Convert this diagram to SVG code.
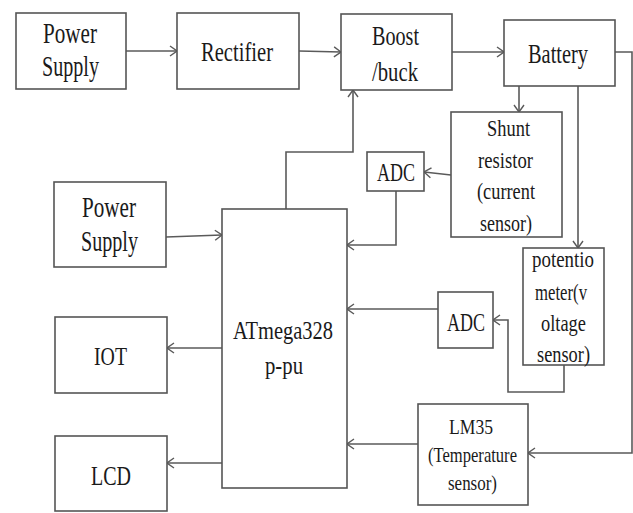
<svg xmlns="http://www.w3.org/2000/svg" width="633" height="513" viewBox="0 0 633 513">
<style>
.box{fill:#fff;stroke:#555;stroke-width:1.6}
.t{font-family:"Liberation Serif","Times New Roman",serif;fill:#1a1a1a}
.c{fill:none;stroke:#5a5a5a;stroke-width:1.6}
</style>
<defs>
<marker id="ah" viewBox="-9 -6 10 12" markerWidth="10" markerHeight="12" refX="0" refY="0" orient="auto" markerUnits="userSpaceOnUse">
<path d="M-7,-5 L0,0 L-7,5" fill="none" stroke="#5a5a5a" stroke-width="1.4"/>
</marker>
</defs>
<rect width="633" height="513" fill="#fff"/>
<g id="connectors">
<path class="c" d="M126,51 H177" marker-end="url(#ah)"/>
<path class="c" d="M299,51 L341,52" marker-end="url(#ah)"/>
<path class="c" d="M452,52 H504" marker-end="url(#ah)"/>
<path class="c" d="M615,52 H632 V453 H528" marker-end="url(#ah)"/>
<path class="c" d="M519,86 V112" marker-end="url(#ah)"/>
<path class="c" d="M578,86 V248" marker-end="url(#ah)"/>
<path class="c" d="M451,175 L424,172" marker-end="url(#ah)"/>
<path class="c" d="M396,191 V245 H347" marker-end="url(#ah)"/>
<path class="c" d="M286,209 V152 H353 V90" marker-end="url(#ah)"/>
<path class="c" d="M166,237 L222,235" marker-end="url(#ah)"/>
<path class="c" d="M438,309 H347" marker-end="url(#ah)"/>
<path class="c" d="M564,365 V392 H508 V320 H493" marker-end="url(#ah)"/>
<path class="c" d="M418,444 H347" marker-end="url(#ah)"/>
<path class="c" d="M222,348 H167" marker-end="url(#ah)"/>
<path class="c" d="M222,463 H167" marker-end="url(#ah)"/>
</g>
<g id="power-supply-1">
<rect class="box" x="16" y="13" width="110" height="76"/>
<text class="t" x="43" y="43" font-size="29" textLength="54" lengthAdjust="spacingAndGlyphs">Power</text>
<text class="t" x="42" y="76" font-size="29" textLength="57" lengthAdjust="spacingAndGlyphs">Supply</text>
</g>
<g id="rectifier">
<rect class="box" x="177" y="13" width="122" height="76"/>
<text class="t" x="201" y="61" font-size="28" textLength="72" lengthAdjust="spacingAndGlyphs">Rectifier</text>
</g>
<g id="boost-buck">
<rect class="box" x="341" y="14" width="111" height="76"/>
<text class="t" x="372" y="45" font-size="27" textLength="47" lengthAdjust="spacingAndGlyphs">Boost</text>
<text class="t" x="372" y="81" font-size="27" textLength="46" lengthAdjust="spacingAndGlyphs">/buck</text>
</g>
<g id="battery">
<rect class="box" x="504" y="20" width="111" height="66"/>
<text class="t" x="528" y="63" font-size="28" textLength="60" lengthAdjust="spacingAndGlyphs">Battery</text>
</g>
<g id="shunt-resistor">
<rect class="box" x="451" y="112" width="111" height="125"/>
<text class="t" x="487" y="136" font-size="24" textLength="43" lengthAdjust="spacingAndGlyphs">Shunt</text>
<text class="t" x="478" y="168" font-size="24" textLength="55" lengthAdjust="spacingAndGlyphs">resistor</text>
<text class="t" x="477" y="199" font-size="24" textLength="58" lengthAdjust="spacingAndGlyphs">(current</text>
<text class="t" x="480" y="231" font-size="24" textLength="52" lengthAdjust="spacingAndGlyphs">sensor)</text>
</g>
<g id="adc-1">
<rect class="box" x="367" y="152" width="57" height="39"/>
<text class="t" x="377" y="181" font-size="25" textLength="38" lengthAdjust="spacingAndGlyphs">ADC</text>
</g>
<g id="power-supply-2">
<rect class="box" x="54" y="182" width="112" height="85"/>
<text class="t" x="82" y="217" font-size="29" textLength="54" lengthAdjust="spacingAndGlyphs">Power</text>
<text class="t" x="81" y="251" font-size="29" textLength="57" lengthAdjust="spacingAndGlyphs">Supply</text>
</g>
<g id="atmega">
<rect class="box" x="222" y="209" width="125" height="279"/>
<text class="t" x="233" y="339" font-size="25" textLength="100" lengthAdjust="spacingAndGlyphs">ATmega328</text>
<text class="t" x="265" y="374" font-size="25" textLength="38" lengthAdjust="spacingAndGlyphs">p-pu</text>
</g>
<g id="potentiometer">
<rect class="box" x="523" y="248" width="81" height="117"/>
<text class="t" x="532" y="267" font-size="23" textLength="62" lengthAdjust="spacingAndGlyphs">potentio</text>
<text class="t" x="535" y="300" font-size="23" textLength="52" lengthAdjust="spacingAndGlyphs">meter(v</text>
<text class="t" x="541" y="331" font-size="23" textLength="45" lengthAdjust="spacingAndGlyphs">oltage</text>
<text class="t" x="537" y="362" font-size="23" textLength="53" lengthAdjust="spacingAndGlyphs">sensor)</text>
</g>
<g id="adc-2">
<rect class="box" x="438" y="292" width="55" height="56"/>
<text class="t" x="447" y="331" font-size="25" textLength="38" lengthAdjust="spacingAndGlyphs">ADC</text>
</g>
<g id="iot">
<rect class="box" x="55" y="317" width="112" height="76"/>
<text class="t" x="94" y="365" font-size="25" textLength="33" lengthAdjust="spacingAndGlyphs">IOT</text>
</g>
<g id="lm35">
<rect class="box" x="418" y="404" width="110" height="101"/>
<text class="t" x="449" y="434" font-size="22" textLength="44" lengthAdjust="spacingAndGlyphs">LM35</text>
<text class="t" x="428" y="462" font-size="22" textLength="89" lengthAdjust="spacingAndGlyphs">(Temperature</text>
<text class="t" x="448" y="490" font-size="22" textLength="49" lengthAdjust="spacingAndGlyphs">sensor)</text>
</g>
<g id="lcd">
<rect class="box" x="55" y="436" width="112" height="75"/>
<text class="t" x="91" y="485" font-size="27" textLength="40" lengthAdjust="spacingAndGlyphs">LCD</text>
</g>
</svg>
